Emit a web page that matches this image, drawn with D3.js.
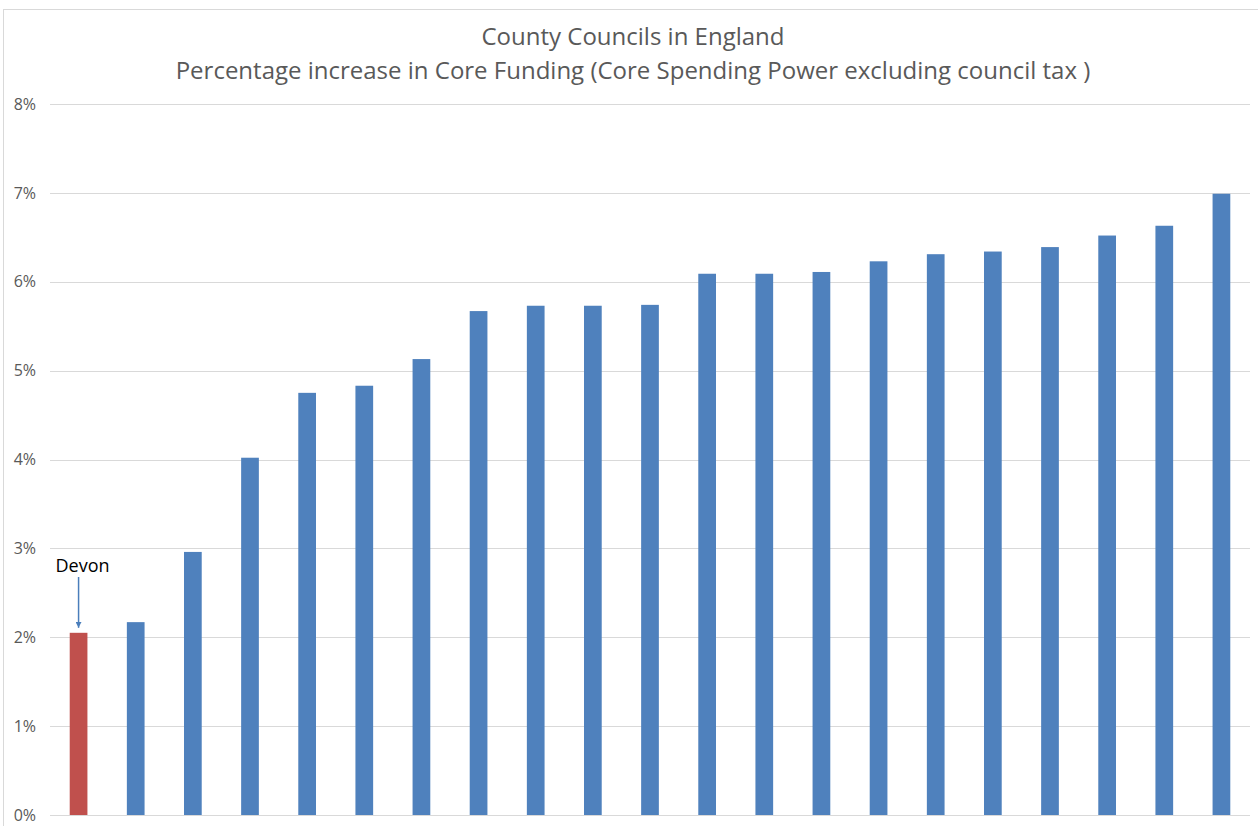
<!DOCTYPE html>
<html lang="en">
<head>
	<meta charset="utf-8">
	<title>County Councils in England</title>
	<style>
		body { margin: 0; background: #fff; }
		svg text { font-family: "Open Sans", "Noto Sans", sans-serif; }
	</style>
</head>
<body>
<script src="https://cdn.jsdelivr.net/npm/d3@7"></script>
<script>
	// councils ranked by increase, Devon highlighted first
	var councils = ["Devon","C2","C3","C4","C5","C6","C7","C8","C9","C10","C11",
		"C12","C13","C14","C15","C16","C17","C18","C19","C20","C21"];
	var increase = [2.05, 2.17, 2.96, 4.02, 4.75, 4.83, 5.13, 5.67, 5.73, 5.73, 5.74,
		6.09, 6.09, 6.11, 6.23, 6.31, 6.34, 6.39, 6.52, 6.63, 6.99];
	var yTicks = [0, 1, 2, 3, 4, 5, 6, 7, 8];
	var titleLines = ["County Councils in England",
		"Percentage increase in Core Funding (Core Spending Power excluding council tax )"];

	var w = 1258, h = 826;
	var svg = d3.select("body").append("svg").attr("width", w).attr("height", h);

	// chart frame (cropped at right and bottom)
	svg.append("rect")
		.attr("x", 3.5).attr("y", 9.5).attr("width", w + 10).attr("height", h + 10)
		.attr("fill", "none").attr("stroke", "#d9d9d9");

	var x = d3.scaleBand().domain(councils).range([50, 1250])
		.paddingInner(0.69).paddingOuter(0.345);
	var y = d3.scaleLinear().domain([0, 8]).range([815, 104]);

	// gridlines
	svg.append("g").selectAll("line")
		.data(yTicks)
		.enter().append("line")
		.attr("x1", 50).attr("x2", 1250)
		.attr("y1", function(d){ return Math.round(y(d)) + 0.5; })
		.attr("y2", function(d){ return Math.round(y(d)) + 0.5; })
		.attr("stroke", "#d9d9d9").attr("stroke-width", 1);

	// y axis labels
	var yAxis = d3.axisLeft(y).tickValues(yTicks)
		.tickFormat(function(d){ return d + "%"; }).tickSize(0).tickPadding(0);
	var ga = svg.append("g").attr("transform", "translate(36,0)").call(yAxis);
	ga.select(".domain").remove();
	ga.selectAll("text").attr("fill", "#595959").style("font-size", "16px")
		.style("font-family", "\"Open Sans\", sans-serif");

	// bars
	svg.append("g").selectAll("rect")
		.data(increase)
		.enter().append("rect")
		.attr("x", function(d, i){ return x(councils[i]); })
		.attr("width", x.bandwidth())
		.attr("y", function(d){ return y(d); })
		.attr("height", function(d){ return y(0) - y(d); })
		.attr("fill", function(d, i){ return i === 0 ? "#c0504d" : "#4f81bd"; });

	// title
	svg.append("g").selectAll("text")
		.data(titleLines)
		.enter().append("text")
		.attr("x", 633)
		.attr("y", function(d, i){ return 45 + i * 34; })
		.attr("text-anchor", "middle")
		.attr("fill", "#595959")
		.style("font-size", "24px")
		.text(function(d){ return d; });

	// Devon annotation
	var cx = x("Devon") + x.bandwidth() / 2;
	svg.append("defs").append("marker")
		.attr("id", "arr").attr("viewBox", "0 0 10 10")
		.attr("refX", 10).attr("refY", 5)
		.attr("markerWidth", 4).attr("markerHeight", 4)
		.attr("orient", "auto")
		.append("path").attr("d", "M0,0L10,5L0,10z").attr("fill", "#4a7ebb");
	svg.append("line")
		.attr("x1", cx).attr("x2", cx)
		.attr("y1", 577).attr("y2", y(increase[0]) - 5)
		.attr("stroke", "#4a7ebb").attr("stroke-width", 1.5)
		.attr("marker-end", "url(#arr)");
	svg.append("text")
		.attr("x", cx + 4).attr("y", 572)
		.attr("text-anchor", "middle")
		.attr("fill", "#000")
		.style("font-size", "18px")
		.text("Devon");
</script>
</body>
</html>
